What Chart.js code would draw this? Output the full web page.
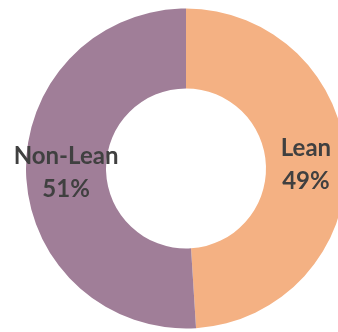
<!DOCTYPE html>
<html>
<head>
<meta charset="utf-8">
<script src="https://cdn.jsdelivr.net/npm/chart.js@4"></script>
<style>
  html, body { margin: 0; padding: 0; background: #fff; overflow: hidden; }
  #wrap { position: absolute; left: 0; top: 0; width: 372px; height: 337px; }
</style>
</head>
<body>
<div id="wrap"><canvas id="share_chart"></canvas></div>
<script>
const categories = ["Lean", "Non-Lean"];
const shares = [49, 51];
const colors = ["#F4B183", "#A07E98"];

// Writes the category name and percent in the middle of each ring segment
const ringLabels = {
    id: "ringLabels",
    afterDatasetsDraw(chart) {
        const ctx = chart.ctx;
        const meta = chart.getDatasetMeta(0);
        ctx.save();
        ctx.fillStyle = "#404040";
        ctx.font = "bold 24px Lato";
        ctx.textAlign = "center";
        ctx.textBaseline = "middle";
        meta.data.forEach((arc, i) => {
            const pos = arc.tooltipPosition();
            ctx.fillText(categories[i], pos.x, pos.y - 16.5);
            ctx.fillText(shares[i] + "%", pos.x, pos.y + 16.5);
        });
        ctx.restore();
    }
};

new Chart(document.getElementById("share_chart"), {
    type: "doughnut",
    data: {
        labels: categories,
        datasets: [{
            data: shares,
            backgroundColor: colors,
            borderWidth: 0
        }]
    },
    options: {
        responsive: true,
        maintainAspectRatio: false,
        animation: false,
        cutout: "50%",
        layout: { padding: 8.5 },
        plugins: {
            legend: { display: false },
            tooltip: { enabled: false }
        }
    },
    plugins: [ringLabels]
});
</script>
</body>
</html>
